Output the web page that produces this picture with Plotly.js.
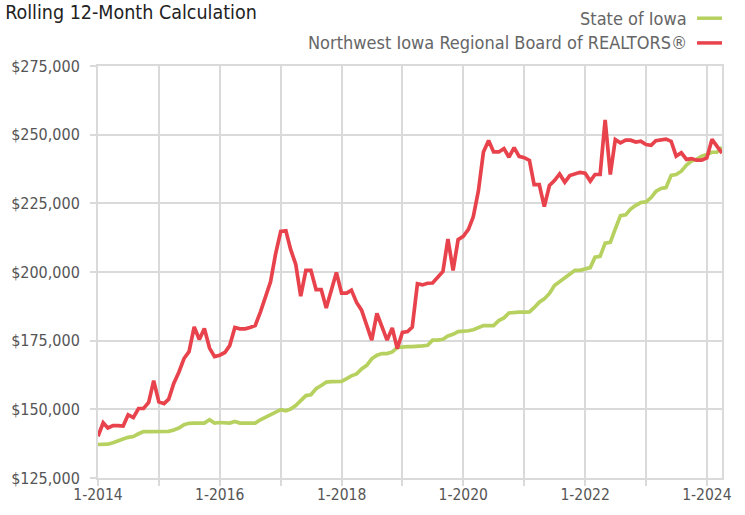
<!DOCTYPE html>
<html>
<head>
<meta charset="utf-8">
<script src="https://cdn.plot.ly/plotly-3.0.1.min.js"></script>
<style>html,body{margin:0;padding:0;background:#fff;}#chart{width:745px;height:515px;}</style>
</head>
<body>
<div id="chart"></div>
<script>
// Monthly, Jan 2014 .. Apr 2024 (values in $ thousands)
const firstYear = 2014;
const yearTicks = [2014,2015,2016,2017,2018,2019,2020,2021,2022,2023,2024];
const tickLabels = ['1-2014','','1-2016','','1-2018','','1-2020','','1-2022','','1-2024'];

const nwIowa = [
  140.2,145.1,143.2,144.1,144.1,143.9,148.0,147.0,150.3,150.3,152.5,160.4,
  152.7,152.1,153.7,159.5,163.5,168.5,171.0,180.0,175.4,179.4,172.3,169.2,
  169.7,170.7,173.2,179.8,179.3,179.3,179.8,180.5,185.4,191.2,196.4,206.5,
  214.8,215.0,208.3,202.8,191.2,200.6,200.6,193.6,193.6,186.9,193.6,199.8,
  192.3,192.3,193.4,188.9,186.1,180.8,175.2,184.9,180.2,175.2,179.6,172.1,
  178.0,178.3,179.9,195.7,195.3,195.9,196.0,198.1,200.2,212.0,200.6,211.8,
  213.0,215.5,220.1,229.6,243.7,247.9,243.7,243.7,244.9,241.8,245.3,242.1,
  241.6,240.6,231.8,231.8,223.8,231.5,233.3,235.7,232.7,235.1,235.7,236.3,
  236.0,233.1,235.5,235.5,255.4,235.5,248.2,247.0,248.0,248.0,247.3,247.6,
  246.4,246.1,247.8,248.0,248.4,247.6,242.2,243.4,241.0,241.3,240.7,240.7,
  241.5,248.3,245.7,243.3
];
const stateIowa = [
  137.2,137.2,137.3,137.8,138.6,139.2,139.8,140.1,141.1,141.9,141.9,141.9,
  141.9,141.9,142.0,142.5,143.2,144.4,144.9,145.0,145.0,145.0,146.2,145.0,
  145.2,145.2,145.0,145.6,145.0,145.0,145.0,145.0,146.2,147.1,147.7,148.9,
  149.9,149.5,150.1,151.4,153.2,155.0,155.3,157.5,158.7,159.9,160.1,160.1,
  160.2,161.2,162.2,162.9,164.7,166.0,168.4,169.7,170.3,170.3,170.9,172.5,
  172.8,172.8,172.8,173.1,173.1,173.3,175.2,175.2,175.5,176.7,177.3,178.3,
  178.3,178.6,179.0,179.9,180.5,180.5,180.5,182.3,183.3,185.1,185.4,185.4,
  185.4,185.5,187.0,189.0,190.2,192.2,195.1,196.5,197.9,199.5,200.6,200.6,
  201.2,201.6,205.4,205.7,210.5,210.8,215.7,220.5,220.8,222.9,224.3,225.3,
  225.5,227.1,229.3,230.4,230.7,235.2,235.5,236.7,238.9,240.4,241.0,242.2,
  242.8,243.6,243.6,245.4
];

function monthDate(i){
  const y = firstYear + Math.floor(i/12);
  const m = (i % 12) + 1;
  return y + '-' + (m < 10 ? '0' + m : m) + '-01';
}
const months = nwIowa.map((_, i) => monthDate(i));
const toDollars = a => a.map(v => v * 1000);

const FONT = '"DejaVu Sans Condensed", "Liberation Sans Narrow", Roboto, sans-serif';
const RED = '#e8434c';
const GREEN = '#b6d160';
const GRID = '#dadada';

const traces = [
  {x: months, y: toDollars(stateIowa), name: 'State of Iowa', type: 'scatter', mode: 'lines',
   line: {color: GREEN, width: 3.7}, hoverinfo: 'skip'},
  {x: months, y: toDollars(nwIowa), name: 'Northwest Iowa Regional Board of REALTORS®', type: 'scatter', mode: 'lines',
   line: {color: RED, width: 3.7}, hoverinfo: 'skip'}
];

const legendY = [1.116, 1.056];
const layout = {
  width: 745, height: 515,
  margin: {l: 98, r: 23, t: 66, b: 37},
  paper_bgcolor: '#ffffff', plot_bgcolor: '#ffffff',
  showlegend: false,
  font: {family: FONT, color: '#555555'},
  title: {text: 'Rolling 12-Month Calculation', x: 0.007, xanchor: 'left', xref: 'container',
          y: 0.976, yanchor: 'middle', yref: 'container', font: {family: FONT, size: 19.5, color: '#222222'}},
  xaxis: {
    type: 'date',
    range: [monthDate(0), monthDate(nwIowa.length - 1)],
    tickvals: yearTicks.map(y => y + '-01-01'),
    ticktext: tickLabels,
    showgrid: true, gridcolor: GRID, gridwidth: 2,
    showline: true, linecolor: GRID, linewidth: 2, mirror: true,
    ticks: 'outside', ticklen: 6, tickcolor: GRID, tickwidth: 2,
    ticklabelstandoff: -5,
    tickfont: {family: FONT, size: 15.5, color: '#555555'},
    zeroline: false, fixedrange: true
  },
  yaxis: {
    range: [125000, 275000],
    dtick: 25000, tick0: 125000,
    tickformat: '$,.0f',
    showgrid: true, gridcolor: GRID, gridwidth: 2,
    showline: true, linecolor: GRID, linewidth: 2, mirror: true,
    ticks: 'outside', ticklen: 6, tickcolor: GRID, tickwidth: 2,
    ticklabelstandoff: 7,
    tickfont: {family: FONT, size: 16, color: '#555555'},
    zeroline: false, fixedrange: true
  },
  annotations: traces.map((t, i) => ({
    text: t.name, xref: 'paper', yref: 'paper', x: 0.947, y: legendY[i],
    xanchor: 'right', yanchor: 'middle', showarrow: false,
    font: {family: FONT, size: 18, color: '#666666'}
  })),
  shapes: traces.map((t, i) => ({
    type: 'line', xref: 'paper', yref: 'paper', x0: 0.96, x1: 1.0, y0: legendY[i], y1: legendY[i],
    line: {color: t.line.color, width: 3.5}
  }))
};

Plotly.newPlot('chart', traces, layout, {displayModeBar: false, staticPlot: true});
</script>
</body>
</html>
